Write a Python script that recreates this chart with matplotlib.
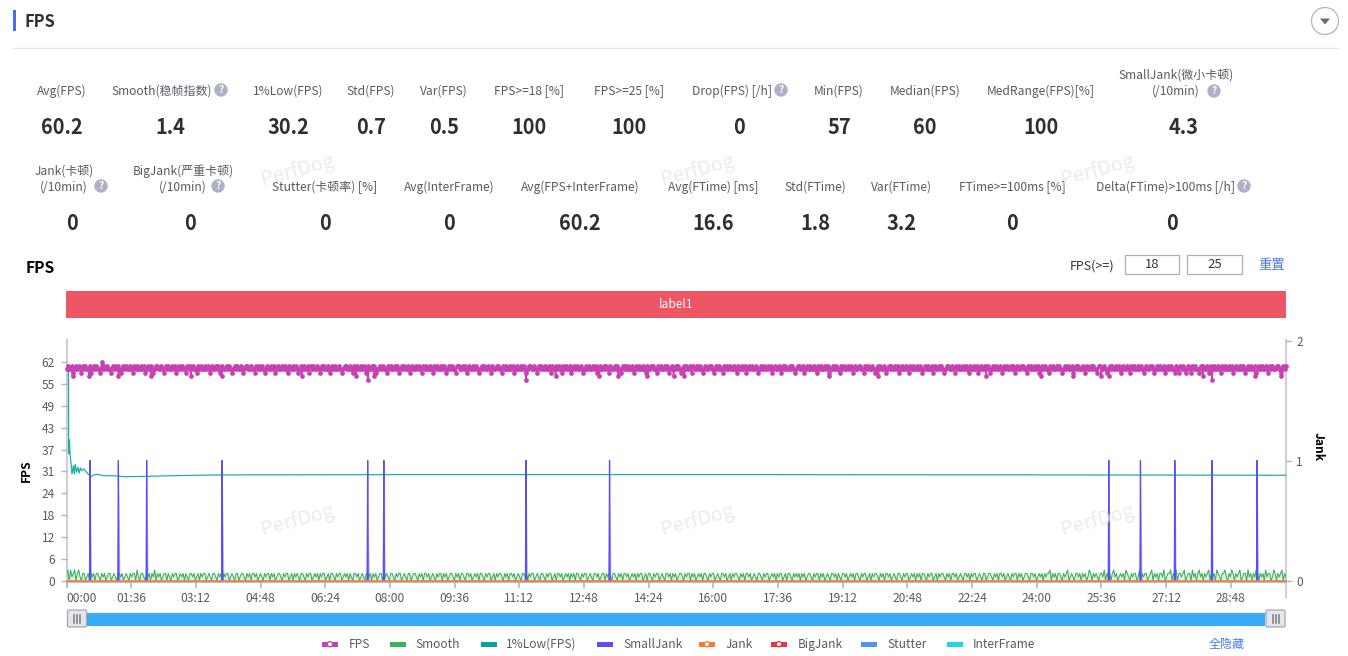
import matplotlib
matplotlib.use('Agg')
import matplotlib.pyplot as plt
from matplotlib.patches import Circle, Polygon, Rectangle, FancyBboxPatch
import numpy as np

plt.rcParams['font.family'] = ['Noto Sans CJK SC', 'DejaVu Sans']

# DATA
#===========================================================================
total_seconds = 1810

fps_values = [
    60, 61, 60, 60, 61, 59, 60, 61, 60, 61, 60, 59, 61, 60, 61, 60, 60, 61, 59, 60, 61, 60, 61, 60, 60, 59, 61, 60, 61, 60,
    61, 60, 60, 59, 61, 60, 61, 60, 61, 60, 59, 60, 61, 60, 61, 60, 60, 61, 60, 59, 61, 60, 61, 60, 60, 61, 60, 61, 59, 60,
    61, 60, 61, 60, 59, 60, 61, 61, 60, 60, 61, 60, 59, 61, 60, 61, 60, 60, 61, 60, 61, 59, 60, 61, 60, 61, 60, 60, 59, 61,
    60, 61, 60, 61, 60, 60, 59, 61, 60, 61, 60, 60, 61, 60, 61, 60, 59, 61, 60, 60, 61, 60, 61, 59, 60, 61, 60, 60, 61, 60,
    61, 60, 59, 60, 61, 60, 61, 60, 60, 61, 59, 60, 61, 61, 60, 60, 61, 60, 60, 59, 61, 60, 61, 60, 61, 60, 59, 60, 61, 60,
    60, 61, 60, 61, 59, 60, 61, 60, 60, 61, 60, 61, 60, 59, 61, 60, 60, 61, 60, 61, 60, 59, 60, 61, 60, 61, 60, 60, 61, 59,
    61, 60, 61, 60, 60, 61, 60, 59, 61, 60, 61, 60, 60, 61, 59, 60, 61, 60, 61, 60, 60, 61, 60, 59, 60, 61, 61, 60, 60, 61,
    60, 59, 61, 60, 61, 60, 60, 61, 60, 61, 60, 59, 61, 60, 60, 61, 60, 61, 59, 60, 60, 61, 60, 61, 60, 60, 59, 61, 60, 61,
    60, 60, 61, 60, 61, 59, 60, 61, 60, 61, 60, 60, 61, 59, 60, 61, 60, 60, 61, 60, 61, 60, 59, 61, 60, 61, 60, 60, 61, 60,
    59, 61, 60, 61, 60, 60, 61, 60, 61, 60, 59, 60, 61, 60, 61, 60, 60, 59, 61, 61, 60, 60, 61, 60, 61, 59, 60, 61, 60, 60,
    61, 60, 61, 60, 59, 60, 61, 60, 61, 60, 60, 61, 60, 59, 61, 60, 60, 61, 61, 60, 60, 59, 61, 60, 61, 60, 60, 61, 60, 61,
    59, 60, 61, 60, 60, 61, 60, 61, 60, 59, 60, 61, 61, 60, 60, 61, 60, 59, 61, 60, 61, 60, 60, 61, 60, 60, 61, 59, 61, 60,
    60, 61, 60, 61, 60, 59, 61, 60, 61, 60, 60, 61, 59, 60, 61, 60, 61, 60, 60, 61, 60, 59, 60, 61, 60, 61, 60, 60, 61, 60,
    61, 59, 60, 61, 60, 60, 61, 60, 61, 60, 59, 61, 60, 60, 61, 60, 61, 60, 60, 59, 61, 60, 61, 60, 61, 60, 60, 61, 59, 60,
    61, 60, 61, 60, 60, 61, 60, 59, 61, 60, 60, 61, 61, 60, 60, 59, 61, 60, 61, 60, 60, 61, 60, 61, 59, 60, 61, 60, 60, 61,
    60, 61, 60, 59, 60, 61, 60, 61, 60, 60, 61, 59, 61, 60, 60, 61, 60, 61, 60, 59, 60, 61, 60, 60, 61, 61, 60, 59, 60, 61,
    60, 61, 60, 60, 59, 61, 60, 61, 60, 61, 60, 60, 61, 60, 59, 61, 60, 60, 61, 60, 61, 59, 60, 61, 60, 61, 60, 60, 61, 60,
    59, 60, 61, 60, 61, 60, 60, 61, 60, 61, 59, 60, 61, 60, 60, 61, 60, 59, 61, 60, 61, 60, 60, 61, 60, 61, 60, 59, 60, 61,
    61, 60, 60, 61, 59, 60, 61, 60, 61, 60, 60, 61, 60, 59, 61, 60, 61, 60, 60, 61, 60, 61, 59, 60, 60, 61, 60, 61, 60, 60,
    59, 61, 60, 61, 60, 60, 61, 60, 61, 60, 59, 61, 60, 60, 61, 61, 60, 60, 59, 61, 60, 61, 60, 60, 61, 60, 59, 60, 61, 60,
    61, 60, 60, 61, 59, 60, 61, 60, 61, 60, 60, 61, 60, 61, 59, 60, 61, 60, 60, 61, 60, 59, 61, 60, 61, 60, 60, 61, 60, 61,
    60, 59, 60, 61, 60, 61, 60, 60, 61, 59, 61, 60, 60, 61, 60, 61, 60, 59, 60, 61, 61, 60, 60, 61, 60, 59, 61, 60, 61, 60,
    60, 61, 60, 61, 60, 59, 61, 60, 60, 61, 60, 61, 59, 60, 61, 60, 60, 61, 60, 61, 60, 59, 60, 61, 60, 61, 60, 60, 61, 60,
    59, 61, 60, 61, 60, 60, 61, 60, 61, 59, 60, 61, 60, 60, 61, 61, 60, 60, 59, 61, 60, 61, 60, 60, 61, 60, 61, 59, 60, 61,
    60, 61, 60, 60, 59, 61, 60, 61, 60, 60, 61, 60, 61, 60, 59, 60, 61, 60, 61, 60, 60, 61, 59, 60, 61, 60, 61, 60, 60, 61,
    60, 59, 61, 60, 60, 61, 60, 61, 60, 60, 59, 61, 61, 60, 60, 61, 60, 59, 60, 61, 60, 61, 60, 60, 61, 60, 61, 59, 60, 61,
    60, 60, 61, 60, 59, 61, 60, 61, 60, 60, 61, 60, 61, 60, 59, 60, 61, 60, 60, 61, 61, 60, 59, 60, 61, 60, 61, 60, 60, 61,
    59, 60, 61, 60, 61, 60, 60, 59, 61, 60, 59, 61, 60, 61, 60, 59, 60, 61, 60, 59, 61, 60, 61, 60, 60, 59, 61, 60, 61, 60,
    60, 61, 59, 60, 61, 60, 61, 60, 60, 61, 60, 59, 61, 60, 61, 60, 60, 61, 60, 61, 59, 60, 61, 60, 60, 61, 60, 61, 60, 59,
    60, 61, 60, 61, 60, 60, 61, 59, 60, 61, 60, 61, 60, 60, 61, 60, 59, 61, 60, 61, 60, 60, 61, 61, 60, 59, 60, 61, 60, 61,
]
# dips and spikes that stick out of the band (seconds, fps)
fps_peak_times = [9, 34, 53, 77, 125, 185, 231, 349, 430, 447, 457, 682, 726, 791, 819, 862, 901, 917,
                  1132, 1205, 1365, 1447, 1494, 1536, 1547, 1687, 1700, 1764, 1803]
fps_peak_values = [58, 58, 62, 58, 58, 58, 58, 58, 58, 57, 58, 57, 58, 58, 58, 58, 58, 58,
                   58, 58, 58, 58, 58, 58, 58, 58, 57, 58, 58]

smooth_values = [
    2, 3, 0, 3, 1, 2, 3, 0, 2, 3, 1, 0, 2, 2, 0, 1, 2, 0, 2, 1, 2, 0, 2, 2, 1, 0, 2, 1, 2, 0,
    1, 2, 2, 0, 1, 2, 1, 0, 2, 2, 1, 2, 0, 1, 2, 1, 0, 2, 1, 2, 2, 0, 3, 1, 0, 2, 2, 1, 0, 2,
    1, 2, 0, 2, 1, 3, 0, 2, 1, 2, 0, 1, 2, 2, 0, 2, 1, 0, 2, 1, 2, 2, 0, 1, 2, 1, 2, 0, 2, 1,
    0, 2, 2, 1, 2, 0, 1, 2, 0, 2, 1, 2, 2, 0, 1, 2, 1, 0, 2, 2, 1, 0, 2, 1, 2, 0, 2, 1, 2, 2,
    0, 1, 2, 1, 0, 2, 2, 0, 1, 2, 2, 1, 0, 2, 1, 2, 0, 2, 2, 1, 2, 0, 1, 2, 1, 0, 2, 1, 2, 2,
    0, 2, 1, 2, 0, 1, 2, 2, 1, 0, 2, 1, 2, 2, 0, 1, 2, 0, 2, 1, 2, 1, 0, 2, 2, 1, 0, 2, 1, 2,
    2, 0, 1, 2, 1, 2, 0, 2, 1, 2, 2, 0, 1, 2, 0, 2, 2, 1, 0, 2, 1, 2, 2, 0, 1, 2, 1, 2, 0, 2,
    1, 0, 2, 2, 1, 2, 0, 1, 2, 1, 0, 2, 2, 1, 2, 0, 2, 1, 2, 0, 1, 2, 2, 0, 2, 1, 2, 1, 0, 2,
    2, 1, 0, 2, 1, 2, 2, 0, 1, 2, 1, 0, 2, 2, 0, 1, 2, 2, 1, 0, 2, 1, 2, 0, 2, 2, 1, 2, 0, 1,
    2, 1, 0, 2, 1, 2, 2, 0, 2, 1, 2, 0, 1, 2, 2, 1, 0, 2, 1, 2, 0, 2, 2, 1, 0, 2, 2, 1, 2, 0,
    1, 2, 1, 2, 0, 2, 2, 1, 0, 2, 1, 2, 2, 0, 1, 2, 0, 2, 1, 2, 2, 1, 0, 2, 1, 2, 0, 2, 2, 1,
    2, 0, 1, 2, 1, 0, 2, 2, 1, 2, 0, 2, 1, 2, 2, 0, 1, 2, 1, 0, 2, 2, 1, 0, 2, 1, 2, 2, 0, 1,
    2, 0, 2, 2, 1, 2, 0, 1, 2, 1, 2, 0, 2, 1, 2, 0, 2, 2, 1, 0, 2, 1, 2, 2, 0, 1, 2, 1, 0, 2,
    2, 1, 2, 0, 1, 2, 2, 0, 2, 1, 2, 1, 0, 2, 2, 1, 0, 2, 1, 2, 0, 2, 2, 1, 2, 0, 1, 2, 1, 2,
    0, 2, 1, 2, 2, 0, 1, 2, 0, 2, 2, 1, 0, 2, 1, 2, 2, 0, 1, 2, 1, 0, 2, 2, 1, 2, 0, 2, 1, 2,
    0, 1, 2, 2, 1, 0, 2, 1, 2, 2, 0, 2, 1, 2, 0, 1, 2, 1, 2, 0, 2, 2, 1, 0, 2, 1, 2, 2, 0, 1,
    2, 1, 0, 2, 2, 1, 2, 0, 1, 2, 0, 2, 1, 2, 2, 1, 0, 2, 1, 2, 0, 2, 2, 1, 2, 0, 1, 2, 1, 0,
    2, 2, 1, 0, 2, 1, 2, 2, 0, 1, 2, 1, 2, 0, 2, 1, 2, 2, 0, 1, 2, 0, 2, 2, 1, 0, 2, 1, 2, 1,
    2, 0, 2, 1, 2, 0, 1, 2, 2, 1, 0, 2, 1, 2, 2, 0, 2, 1, 2, 0, 1, 2, 1, 0, 2, 2, 1, 2, 0, 2,
    1, 0, 2, 2, 1, 2, 0, 1, 2, 1, 2, 0, 2, 2, 1, 0, 2, 1, 2, 2, 0, 1, 2, 0, 2, 1, 2, 2, 1, 0,
    2, 1, 2, 0, 2, 2, 1, 2, 0, 1, 2, 1, 0, 2, 2, 1, 0, 2, 1, 2, 2, 0, 1, 2, 1, 2, 0, 2, 1, 2,
    0, 2, 2, 1, 0, 2, 1, 2, 2, 0, 1, 2, 0, 2, 1, 2, 2, 1, 0, 2, 1, 2, 0, 2, 2, 1, 2, 0, 1, 2,
    1, 0, 2, 2, 1, 2, 0, 2, 1, 2, 2, 0, 1, 2, 1, 0, 2, 2, 0, 1, 2, 2, 1, 0, 2, 1, 2, 0, 2, 2,
    1, 2, 0, 1, 2, 1, 0, 2, 1, 2, 2, 0, 2, 1, 2, 0, 1, 2, 2, 1, 0, 2, 2, 1, 2, 0, 1, 2, 1, 2,
    0, 2, 1, 2, 2, 3, 0, 2, 1, 2, 0, 2, 2, 1, 0, 2, 1, 2, 3, 0, 1, 2, 1, 0, 2, 2, 1, 2, 0, 2,
    1, 2, 0, 1, 3, 2, 0, 2, 1, 2, 1, 0, 2, 2, 1, 3, 0, 2, 1, 2, 0, 2, 3, 1, 2, 0, 1, 2, 1, 2,
    0, 3, 2, 1, 0, 2, 1, 2, 2, 0, 1, 3, 0, 2, 1, 2, 2, 0, 1, 2, 3, 0, 2, 1, 2, 0, 2, 2, 1, 3,
    0, 1, 2, 2, 3, 0, 2, 1, 3, 0, 2, 2, 1, 2, 3, 0, 1, 2, 2, 0, 3, 1, 2, 0, 2, 3, 1, 2, 0, 2,
    1, 2, 3, 0, 2, 1, 2, 0, 3, 2, 1, 0, 2, 2, 3, 1, 0, 2, 1, 3, 2, 0, 2, 1, 2, 3, 0, 1, 2, 2,
    0, 3, 1, 2, 0, 2, 1, 3, 2, 0, 2, 1, 2, 0, 3, 1, 2, 2, 0, 1, 3, 2, 0, 2, 1, 2, 3, 0, 2, 1,
]

low_times = [0, 3, 3.3, 4.3, 5.3, 6.8, 8.2, 10.2, 11.6, 13, 15, 17, 18.8, 20.7, 23, 25.7, 29.6, 33, 36.6,
             40.5, 45.5, 50, 55, 75, 85, 120, 160, 228, 500, 1000, 1500, 1810]
low_values = [60, 59.6, 36, 40, 36, 33, 30.3, 32.6, 30.3, 33, 30.8, 32.2, 30.5, 32, 31.2, 31.7, 30.8, 30.1, 29.5,
              30, 30.2, 30, 29.8, 29.7, 29.5, 29.6, 29.8, 30, 30.1, 30.1, 30, 29.9]

small_jank_times = [35, 77, 119, 231, 447, 471, 682, 806, 1547, 1594, 1645, 1700, 1767]
small_jank_value = 1

fps_ticks = [6.2 * k for k in range(11)]
jank_ticks = [0, 1, 2]
time_labels = ['00:00', '01:36', '03:12', '04:48', '06:24', '08:00', '09:36', '11:12', '12:48', '14:24',
               '16:00', '17:36', '19:12', '20:48', '22:24', '24:00', '25:36', '27:12', '28:48']
time_ticks = [96 * k for k in range(len(time_labels))]

row1_labels = ['Avg(FPS)', 'Smooth(稳帧指数)', '1%Low(FPS)', 'Std(FPS)', 'Var(FPS)', 'FPS>=18 [%]', 'FPS>=25 [%]',
               'Drop(FPS) [/h]', 'Min(FPS)', 'Median(FPS)', 'MedRange(FPS)[%]', 'SmallJank(微小卡顿)\n(/10min)']
row1_values = ['60.2', '1.4', '30.2', '0.7', '0.5', '100', '100', '0', '57', '60', '100', '4.3']
row2_labels = ['Jank(卡顿)\n(/10min)', 'BigJank(严重卡顿)\n(/10min)', 'Stutter(卡顿率) [%]', 'Avg(InterFrame)',
               'Avg(FPS+InterFrame)', 'Avg(FTime) [ms]', 'Std(FTime)', 'Var(FTime)', 'FTime>=100ms [%]',
               'Delta(FTime)>100ms [/h]']
row2_values = ['0', '0', '0', '0', '60.2', '16.6', '1.8', '3.2', '0', '0']

legend_labels = ['FPS', 'Smooth', '1%Low(FPS)', 'SmallJank', 'Jank', 'BigJank', 'Stutter', 'InterFrame']
legend_colors = ['#c93fb4', '#3cb15e', '#0aa39b', '#5a4ff0', '#f97a2e', '#e8363c', '#4d94f5', '#26d2e6']
legend_markers = [True, False, False, False, True, True, False, False]

# LAYOUT (pixels of the 1348x656 picture)
#===========================================================================
W, H = 1348, 656
plot_left, plot_right, plot_top, plot_bottom = 66.5, 1286, 340.5, 580.5

row1_label_x = [61.5, 162, 288, 371, 444, 529, 629, 732, 839, 925, 1041, 1176]
row1_value_x = [61.5, 170, 288, 371, 444, 529, 629, 739, 839, 925, 1041, 1184]
row1_help_x = {1: 221, 7: 781, 11: 1214}
row2_label_x = [64, 183, 325, 449, 580, 713, 815, 901, 1012, 1165]
row2_value_x = [72, 190, 325, 449, 580, 713, 815, 901, 1012, 1172]
row2_help_x = {0: 101, 1: 218, 9: 1244}

legend_swatch_x = [322, 390, 481, 597, 699, 771, 861, 947]
legend_text_x = [348.5, 415, 506, 623, 726, 797.5, 887, 973]

label_color = '#555a66'
value_color = '#2e2e36'
blue_link = '#4d79f0'
axis_color = '#ccd0da'
tick_color = '#b0b5c6'

fig = plt.figure(figsize=(W / 100, H / 100), dpi=100)

# MAIN CHART
#===========================================================================
ax = fig.add_axes([plot_left / W, 1 - plot_bottom / H, (plot_right - plot_left) / W, (plot_bottom - plot_top) / H])
ax2 = ax.twinx()

fps_t = np.linspace(0, total_seconds, len(fps_values))
all_t = np.concatenate([fps_t, fps_peak_times])
all_v = np.concatenate([fps_values, fps_peak_values])
order = np.argsort(all_t)

smooth_t = np.linspace(0, total_seconds, len(smooth_values))
ax.fill_between(smooth_t, smooth_values, 0, color='#3cb15e', alpha=0.15, lw=0, zorder=1)
ax.plot(smooth_t, smooth_values, color='#3cb15e', lw=0.8, zorder=2)
ax.plot(low_times, low_values, color='#1fb0a5', lw=0.9, zorder=3)
ax.plot(all_t[order], all_v[order], color='#c93fb4', lw=1.2, marker='o', ms=3.4, mew=0, zorder=4, clip_on=False)

for t in small_jank_times:
    ax2.fill_between([t - 2.5, t, t + 2.5], [0, small_jank_value, 0], 0, color='#5a4ff0', alpha=0.3, lw=0, zorder=1)
    ax2.plot([t - 0.8, t, t + 0.8], [0, small_jank_value, 0], color='#5a4ff0', lw=0.9, zorder=2)
ax2.plot([0, total_seconds], [0, 0], color='#f97a2e', lw=1.2, zorder=3, clip_on=False)

ax.set_xlim(0, total_seconds)
ax.set_ylim(0, 68.2)
ax2.set_ylim(0, 2)

ax.set_xticks(time_ticks)
ax.set_xticklabels(time_labels)
ax.set_yticks(fps_ticks)
ax.set_yticklabels([str(int(v)) for v in fps_ticks])
ax2.set_yticks(jank_ticks)

ax.tick_params(axis='x', length=4.3, width=1.2, color=tick_color, labelcolor=label_color, labelsize=8.64, pad=3)
ax.tick_params(axis='y', length=4.3, width=1.0, color=tick_color, labelcolor=label_color, labelsize=8.64, pad=4)
ax2.tick_params(axis='y', length=4.3, width=1.0, color=tick_color, labelcolor=label_color, labelsize=8.64, pad=3)

for a in (ax, ax2):
    for s in a.spines.values():
        s.set_visible(False)
    a.patch.set_visible(False)
ax.spines['bottom'].set_visible(True)
ax.spines['bottom'].set_position(('outward', 1.1))
ax.spines['bottom'].set_color('#aab0c2')
ax.spines['bottom'].set_linewidth(1.2)

# first label starts at the tick instead of sitting centred on it
first_label = ax.xaxis.get_major_ticks()[0].label1
first_label.set_horizontalalignment('left')

# PAGE OVERLAY
#===========================================================================
page = fig.add_axes([0, 0, 1, 1], zorder=-1)
page.set_xlim(0, W)
page.set_ylim(H, 0)
page.axis('off')

front = fig.add_axes([0, 0, 1, 1], zorder=5)
front.set_xlim(0, W)
front.set_ylim(H, 0)
front.axis('off')
front.patch.set_visible(False)

# axis lines that run past the plot area
page.plot([66.5, 66.5], [340, 586], color=axis_color, lw=1.5)
page.plot([1286, 1286], [340, 597], color=axis_color, lw=1.5)

# header
page.add_patch(Rectangle((13, 10), 3, 21, color='#4a6cf7', lw=0))
page.text(24, 22, 'FPS', fontsize=11.8, fontweight='bold', color=value_color, va='center')
page.plot([13, 1338], [48, 48], color='#e4e6f2', lw=1)
page.add_patch(Circle((1325, 21), 13.5, fc='white', ec='#b0b3c5', lw=0.9))
page.add_patch(Polygon([[1320, 18.5], [1330, 18.5], [1325, 24.5]], color='#666a78', lw=0))


def help_icon(x, y):
    page.add_patch(Circle((x, y), 6.7, color='#aeb1c4', lw=0))
    page.text(x, y, '?', fontsize=7.5, fontweight='bold', color='white', ha='center', va='center')


def kpi_label(x, y_single, y_first, name):
    parts = name.split('\n')
    if len(parts) == 1:
        page.text(x, y_single, name, fontsize=8.64, color=label_color, ha='center', va='center')
    else:
        page.text(x, y_first, parts[0], fontsize=8.64, color=label_color, ha='center', va='center')
        page.text(x, y_single, parts[1], fontsize=8.64, color=label_color, ha='center', va='center')


# kpi rows
for i, name in enumerate(row1_labels):
    kpi_label(row1_label_x[i], 91, 75, name)
    page.text(row1_value_x[i], 127, row1_values[i], fontsize=14.4, fontweight='bold', color=value_color,
              ha='center', va='center')
    if i in row1_help_x:
        help_icon(row1_help_x[i], 91 if i == 11 else 90)

for i, name in enumerate(row2_labels):
    kpi_label(row2_label_x[i], 187, 171, name)
    page.text(row2_value_x[i], 224, row2_values[i], fontsize=14.4, fontweight='bold', color=value_color,
              ha='center', va='center')
    if i in row2_help_x:
        help_icon(row2_help_x[i], 186)

# chart title and threshold boxes
page.text(26, 268, 'FPS', fontsize=11.3, fontweight='bold', color='black', va='center')
page.text(1070, 266, 'FPS(>=)', fontsize=9.0, color='#333333', va='center')
for x0, x1, txt in [(1125, 1179, '18'), (1187, 1241.5, '25')]:
    page.add_patch(Rectangle((x0, 254.5), x1 - x0, 19, fc='white', ec='#aab0c4', lw=0.9))
    page.text((x0 + x1) / 2, 265, txt, fontsize=9.4, color='#333333', ha='center', va='center')
page.text(1272, 265.5, '重置', fontsize=9.6, color=blue_link, ha='center', va='center')

# label strip
page.add_patch(Rectangle((66, 291), 1220, 27, color='#ef5665', lw=0))
page.text(676, 305, 'label1', fontsize=8.64, color='white', ha='center', va='center')

# axis titles
page.text(26, 471, 'FPS', fontsize=8.64, fontweight='bold', color='black', rotation=90, ha='center', va='center')
page.text(1318, 447, 'Jank', fontsize=8.64, fontweight='bold', color='black', rotation=270, ha='center', va='center')

# time slider
page.add_patch(Rectangle((87, 612.5), 1178, 13.5, color='#33adf7', lw=0))
page.plot([87, 1265], [612.8, 612.8], color='#6aa9d6', lw=1)
for hx in (66.5, 1265):
    page.add_patch(FancyBboxPatch((hx + 1, 610), 19, 17, boxstyle='round,pad=0,rounding_size=1.5',
                                  fc='#e6e6e8', ec='#a6a8ae', lw=0.9))
    for dx in (7.5, 10.5, 13.5):
        page.plot([hx + dx, hx + dx], [614.5, 622.5], color='#777a84', lw=1.1)

# legend
for i, name in enumerate(legend_labels):
    x0 = legend_swatch_x[i]
    page.add_patch(Rectangle((x0, 642), 16, 4.5, color=legend_colors[i], lw=0))
    if legend_markers[i]:
        page.add_patch(Circle((x0 + 8, 644.2), 2.6, fc='white', ec=legend_colors[i], lw=0.9))
    page.text(legend_text_x[i], 648, name, fontsize=8.64, color=label_color, va='baseline')
page.text(1226.5, 648, '全隐藏', fontsize=8.64, color=blue_link, ha='center', va='baseline')

# watermark
for wy in (170, 520):
    for wx in (297, 697, 1097):
        front.text(wx, wy, 'PerfDog', fontsize=14.4, color='#e6e6e6', rotation=15, ha='center', va='center', alpha=0.8)

fig.savefig('out.png', dpi=100, facecolor='white')
